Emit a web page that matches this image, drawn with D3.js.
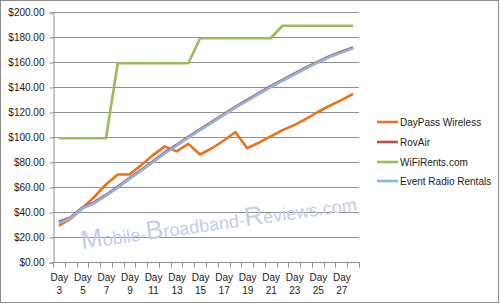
<!DOCTYPE html>
<html><head><meta charset="utf-8">
<script src="https://cdn.jsdelivr.net/npm/d3@7"></script>
<style>
html,body{margin:0;padding:0;background:#fff;}
text{font-family:"Liberation Sans",Arial,sans-serif;}
</style></head>
<body>
<svg id="chart" width="500" height="304"></svg>
<script>
const days = ["3","4","5","6","7","8","9","10","11","12","13","14","15","16","17","18","19","20","21","22","23","24","25","26","27","28"];
const dayPass = [29,34.5,43,52,62,70,70,77.5,85.5,92.5,88.5,94.5,86,91,97,104,91,95.5,100.5,105.5,109.5,114.5,120,125,129.5,134.5];
const rovAir  = [32,35.5,43.5,47.5,53.5,60,67,73.5,80.5,87.5,93.5,100,106,112,118,124,129.5,135,140.5,145.5,150.5,155.5,160,164.5,168,171.5];
const wifiRents = [99,99,99,99,99,159,159,159,159,159,159,159,179,179,179,179,179,179,179,189,189,189,189,189,189,189];
const eventRadio = [31,35,43,47,53,59.5,66.5,73,80,87,93,99.5,105.5,111.5,117.5,123.5,129,134.5,140,145,150,155,159.5,164,167.5,171];
const seriesNames = ["DayPass Wireless","RovAir","WiFiRents.com","Event Radio Rentals"];
const seriesColors = ["#E8731C","#C0504D","#9BBB59","#8EB4E3"];
const yTicks = [0,20,40,60,80,100,120,140,160,180,200];
const watermarkParts = [["M",true],["obile-",false],["B",true],["roadband-",false],["R",true],["eviews.com",false]];

const series = [dayPass, rovAir, wifiRents, eventRadio];
const svg = d3.select("#chart");
const m = {left:53, top:12, right:359, bottom:262};

svg.append("rect").attr("x",0.5).attr("y",0.5).attr("width",498).attr("height",302)
  .attr("fill","#fff").attr("stroke","#8c8c8c");

const x = d3.scaleBand().domain(days).range([m.left, m.right]).paddingInner(0).paddingOuter(0);
const y = d3.scaleLinear().domain([0,200]).range([m.bottom, m.top]);

// gridlines
svg.append("g").selectAll("line").data(yTicks.filter(d=>d>0)).join("line")
  .attr("x1",m.left).attr("x2",m.right)
  .attr("y1",d=>Math.round(y(d))+0.5).attr("y2",d=>Math.round(y(d))+0.5)
  .attr("stroke","#8f8f8f").attr("stroke-width",1);

// y axis
const yAxis = d3.axisLeft(y).tickValues(yTicks).tickSize(4).tickPadding(5)
  .tickFormat(d=>"$"+d3.format(".2f")(d));
const gy = svg.append("g").attr("transform",`translate(${m.left+0.5},0.5)`).call(yAxis);
gy.select(".domain").attr("stroke","#8f8f8f");
gy.selectAll(".tick line").attr("stroke","#8f8f8f");
gy.selectAll("text").attr("font-size",10).attr("fill","#1a1a1a");

// x axis
const gx = svg.append("g").attr("transform",`translate(0.5,${m.bottom+0.5})`);
gx.append("line").attr("x1",m.left).attr("x2",m.right).attr("stroke","#8f8f8f");
const bounds = days.map(d=>x(d)).concat([m.right]);
gx.selectAll("line.tk").data(bounds).join("line").attr("class","tk")
  .attr("x1",d=>Math.round(d)).attr("x2",d=>Math.round(d)).attr("y1",0).attr("y2",5)
  .attr("stroke","#8f8f8f");
const lbl = gx.selectAll("text.xl").data(days.filter((d,i)=>i%2===0)).join("text").attr("class","xl")
  .attr("text-anchor","middle").attr("font-size",10).attr("fill","#1a1a1a");
lbl.append("tspan").attr("x",d=>x(d)+x.bandwidth()/2).attr("y",18).text("Day");
lbl.append("tspan").attr("x",d=>x(d)+x.bandwidth()/2).attr("y",31).text(d=>d);

// watermark
const wm = svg.append("text").attr("transform","translate(82,249) rotate(-8)")
  .attr("fill","#c5cce8").attr("font-size",18);
watermarkParts.forEach(([t,big])=>{
  wm.append("tspan").attr("font-size",big?26:18).text(t);
});

// lines
const line = d3.line().x((d,i)=>x(days[i])+x.bandwidth()/2).y(d=>y(d));
const order = [2,0,1,3];
order.forEach(k=>{
  svg.append("path").datum(series[k]).attr("d",line).attr("fill","none")
    .attr("stroke",seriesColors[k]).attr("stroke-width",k===1?3:2.6)
    .attr("stroke-linejoin","round");
});

// legend
const lg = svg.append("g");
const legY = [122,142,162,181];
seriesNames.forEach((n,i)=>{
  lg.append("line").attr("x1",377).attr("x2",398).attr("y1",legY[i]).attr("y2",legY[i])
    .attr("stroke",seriesColors[i]).attr("stroke-width",2.6);
  lg.append("text").attr("x",400).attr("y",legY[i]).attr("dy","0.35em")
    .attr("font-size",10).attr("fill","#1a1a1a").text(n);
});
</script>
</body></html>
